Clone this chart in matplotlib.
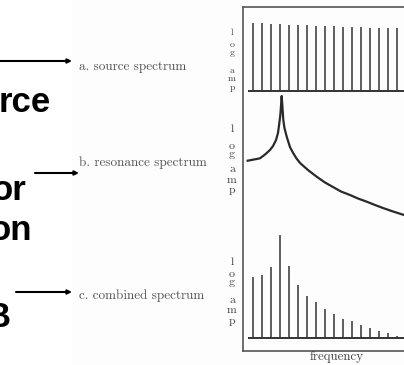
import matplotlib.pyplot as plt
from matplotlib.patches import Rectangle

W, H = 404, 365

# harmonic numbers and log-amplitude readings (1 unit ~ 10 px of the original)
harmonics = list(range(1, 18))
source_amp = [6.8, 6.73, 6.67, 6.67, 6.57, 6.57, 6.53, 6.5, 6.47, 6.47,
              6.4, 6.33, 6.33, 6.3, 6.27, 6.27, 6.24]
combined_amp = [6.1, 6.3, 7.17, 10.3, 7.27, 5.33, 4.23, 3.6, 2.9, 2.4,
                1.97, 1.73, 1.3, 1.07, 0.73, 0.5, 0.2]

resonance_freq = [0.44, 1.14, 1.81, 2.37, 2.92, 3.26, 3.59, 3.81, 3.96, 4.07,
                  4.14, 4.22, 4.29, 4.4, 4.53, 4.78, 5.14, 5.51, 5.87, 6.26,
                  7.14, 8.11, 9.03, 9.92, 10.81, 11.81, 12.7, 13.67, 14.59,
                  15.48, 16.59, 17.81]
resonance_amp = [6.93, 7.05, 7.17, 7.55, 8.0, 8.4, 9.0, 9.7, 10.7, 11.5,
                 12.33, 13.4, 12.5, 11.0, 10.2, 9.33, 8.3, 7.67, 7.15, 6.7,
                 6.0, 5.33, 4.75, 4.3, 3.85, 3.5, 3.15, 2.83, 2.5,
                 2.2, 1.85, 1.5]

panel_labels = ['a. source spectrum', 'b. resonance spectrum', 'c. combined spectrum']
slide_words = ['rce', 'or', 'on', 'B']

fig = plt.figure(figsize=(W / 100, H / 100), dpi=100)
fig.patch.set_facecolor('white')
fig.add_artist(Rectangle((72 / W, 0), 1, 1, transform=fig.transFigure,
                         color='#fdfdfd', zorder=0))


def px_axes(left, top, right, bottom):
    return fig.add_axes([left / W, 1 - bottom / H, (right - left) / W, (bottom - top) / H])


def panel(top, bottom, base):
    ax = px_axes(243, top, 404, bottom)
    ax.set_xlim((243 - 243.7) / 9, (404 - 243.7) / 9)
    ax.set_ylim((base - bottom) / 10, (base - top) / 10)
    ax.axis('off')
    ax.patch.set_alpha(0)
    return ax


def ftext(x, y, s, **kw):
    fig.text(x / W, 1 - y / H, s, **kw)


# outer frame
frame = px_axes(243, 7, 420, 351)
frame.set_xticks([])
frame.set_yticks([])
frame.patch.set_alpha(0)
for side, sp in frame.spines.items():
    sp.set_color('#555555')
    sp.set_linewidth(1.2)
frame.spines['right'].set_visible(False)

ink = '#333333'

ax1 = panel(7, 95, 90.7)
ax1.vlines(harmonics, 0, source_amp, color=ink, lw=1.1)
ax1.hlines(0, 0.48, 18, color=ink, lw=1.4)

ax2 = panel(90, 230, 230)
ax2.plot(resonance_freq, resonance_amp, color='#2a2a2a', lw=1.6)

ax3 = panel(220, 351, 338.3)
ax3.vlines(harmonics, 0, combined_amp, color=ink, lw=1.1)
ax3.hlines(0, 0.48, 18, color=ink, lw=1.4)

# stacked "log amp" axis labels
serif = dict(family='cmr10', color='#444444')
letter_base = [[35, 47, 55, 73, 81, 90],
               [132, 149, 157, 172, 183, 193],
               [265, 277, 285, 303, 313, 324]]
letter_size = [7, 8.5, 8.5]
for bases, fs in zip(letter_base, letter_size):
    for ch, yb in zip('logamp', bases):
        ftext(232, yb, ch, ha='center', va='baseline', fontsize=fs, **serif)

ftext(337, 357, 'frequency', ha='center', va='center', fontsize=9.3, **serif)

for lab, y in zip(panel_labels, [67, 163, 296]):
    ftext(79, y, lab, ha='left', va='center', fontsize=9.5,
          family='cmr10', color='#555555')

# cropped slide text
bold = dict(family='Liberation Sans', weight='bold', fontsize=25, color='black',
            ha='right', va='baseline')
for word, (xr, yb) in zip(slide_words, [(51, 112), (26, 200), (32, 240), (11, 327)]):
    ftext(xr, yb, word, **bold)

# arrows from slide text to the figure labels
for x0, x1, y in [(-2, 72, 61), (35, 79, 173), (16, 72, 292)]:
    fig.add_artist(plt.Annotation('', xy=(x1 / W, 1 - y / H), xytext=(x0 / W, 1 - y / H),
                                  xycoords='figure fraction', textcoords='figure fraction',
                                  arrowprops=dict(arrowstyle='-|>', color='black', lw=1.5,
                                                  mutation_scale=6, shrinkA=0, shrinkB=0)))

fig.savefig('out.png', dpi=100)
